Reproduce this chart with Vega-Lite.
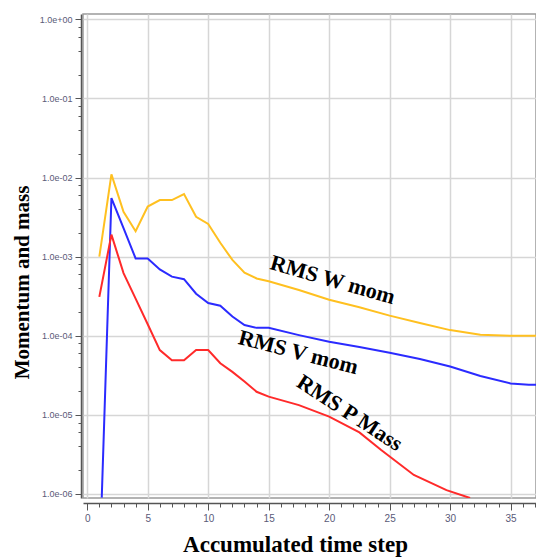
{
  "$schema": "https://vega.github.io/schema/vega-lite/v6.json",
  "autosize": {"type": "none"},
  "padding": {"left": 83, "top": 14, "right": 0, "bottom": 59},
  "width": 453,
  "height": 484,
  "background": "white",
  "config": {
    "view": {"stroke": "#9a9a9a", "strokeWidth": 1.5}
  },
  "layer": [
    {
      "data": {"values": [
        {"series": "W", "step": 1, "value": 1.0e-3},
        {"series": "W", "step": 2, "value": 1.1e-2},
        {"series": "W", "step": 3, "value": 3.7e-3},
        {"series": "W", "step": 4, "value": 2.1e-3},
        {"series": "W", "step": 5, "value": 4.3e-3},
        {"series": "W", "step": 6, "value": 5.2e-3},
        {"series": "W", "step": 7, "value": 5.2e-3},
        {"series": "W", "step": 8, "value": 6.2e-3},
        {"series": "W", "step": 9, "value": 3.2e-3},
        {"series": "W", "step": 10, "value": 2.6e-3},
        {"series": "W", "step": 11, "value": 1.5e-3},
        {"series": "W", "step": 12, "value": 9.1e-4},
        {"series": "W", "step": 13, "value": 6.3e-4},
        {"series": "W", "step": 14, "value": 5.3e-4},
        {"series": "W", "step": 15, "value": 4.9e-4},
        {"series": "W", "step": 17.5, "value": 3.8e-4},
        {"series": "W", "step": 20, "value": 2.85e-4},
        {"series": "W", "step": 22.5, "value": 2.3e-4},
        {"series": "W", "step": 25, "value": 1.8e-4},
        {"series": "W", "step": 27.5, "value": 1.45e-4},
        {"series": "W", "step": 30, "value": 1.18e-4},
        {"series": "W", "step": 32.5, "value": 1.03e-4},
        {"series": "W", "step": 35, "value": 1.0e-4},
        {"series": "W", "step": 37.5, "value": 1.0e-4},
        {"series": "V", "step": 1.2, "value": 9.0e-7},
        {"series": "V", "step": 2, "value": 5.5e-3},
        {"series": "V", "step": 3, "value": 2.3e-3},
        {"series": "V", "step": 4, "value": 9.5e-4},
        {"series": "V", "step": 5, "value": 9.5e-4},
        {"series": "V", "step": 6, "value": 6.9e-4},
        {"series": "V", "step": 7, "value": 5.6e-4},
        {"series": "V", "step": 8, "value": 5.2e-4},
        {"series": "V", "step": 9, "value": 3.4e-4},
        {"series": "V", "step": 10, "value": 2.6e-4},
        {"series": "V", "step": 11, "value": 2.4e-4},
        {"series": "V", "step": 12, "value": 1.75e-4},
        {"series": "V", "step": 13, "value": 1.37e-4},
        {"series": "V", "step": 14, "value": 1.26e-4},
        {"series": "V", "step": 15, "value": 1.26e-4},
        {"series": "V", "step": 17.5, "value": 1.02e-4},
        {"series": "V", "step": 20, "value": 8.4e-5},
        {"series": "V", "step": 22.5, "value": 7.2e-5},
        {"series": "V", "step": 25, "value": 6.1e-5},
        {"series": "V", "step": 27.5, "value": 5.1e-5},
        {"series": "V", "step": 30, "value": 4.1e-5},
        {"series": "V", "step": 32.5, "value": 3.1e-5},
        {"series": "V", "step": 35, "value": 2.5e-5},
        {"series": "V", "step": 36.5, "value": 2.4e-5},
        {"series": "V", "step": 37.5, "value": 2.4e-5},
        {"series": "P", "step": 1, "value": 3.1e-4},
        {"series": "P", "step": 2, "value": 1.9e-3},
        {"series": "P", "step": 3, "value": 6.2e-4},
        {"series": "P", "step": 4, "value": 2.95e-4},
        {"series": "P", "step": 5, "value": 1.4e-4},
        {"series": "P", "step": 6, "value": 6.6e-5},
        {"series": "P", "step": 7, "value": 4.9e-5},
        {"series": "P", "step": 8, "value": 4.9e-5},
        {"series": "P", "step": 9, "value": 6.6e-5},
        {"series": "P", "step": 10, "value": 6.6e-5},
        {"series": "P", "step": 11, "value": 4.5e-5},
        {"series": "P", "step": 12, "value": 3.5e-5},
        {"series": "P", "step": 13, "value": 2.65e-5},
        {"series": "P", "step": 14, "value": 1.96e-5},
        {"series": "P", "step": 15, "value": 1.7e-5},
        {"series": "P", "step": 17.5, "value": 1.33e-5},
        {"series": "P", "step": 20, "value": 9.5e-6},
        {"series": "P", "step": 22.5, "value": 6.0e-6},
        {"series": "P", "step": 24.3, "value": 3.6e-6},
        {"series": "P", "step": 27, "value": 1.74e-6},
        {"series": "P", "step": 29.7, "value": 1.12e-6},
        {"series": "P", "step": 31.65, "value": 8.9e-7}
      ]},
      "mark": {"type": "line", "clip": true, "strokeWidth": 2},
      "encoding": {
        "x": {
          "field": "step", "type": "quantitative",
          "scale": {"domain": [-0.35, 37.1], "nice": false, "zero": false},
          "axis": {
            "title": "Accumulated time step",
            "titleFont": "Liberation Serif", "titleFontSize": 23, "titleFontWeight": "bold", "titleColor": "black",
            "titlePadding": 10,
            "titleX": 212,
            "tickCount": 200,
            "format": "d",
            "values": [0,1,2,3,4,5,6,7,8,9,10,11,12,13,14,15,16,17,18,19,20,21,22,23,24,25,26,27,28,29,30,31,32,33,34,35,36,37],
            "labelExpr": "datum.value % 5 == 0 ? datum.label : ''",
            "labelOverlap": false,
            "labelFont": "Liberation Sans", "labelFontSize": 10, "labelColor": "#5a5a78",
            "labelPadding": 3,
            "offset": 5,
            "domainColor": "#555555", "domainWidth": 1.5,
            "tickColor": "#555555", "tickWidth": 1,
            "tickSize": {"condition": {"test": "datum.value % 5 == 0", "value": 7}, "value": 4},
            "grid": true, "gridColor": "#d6d6d6", "gridWidth": 1.5,
            "gridOpacity": {"condition": {"test": "datum.value % 5 == 0", "value": 1}, "value": 0}
          }
        },
        "y": {
          "field": "value", "type": "quantitative",
          "scale": {"type": "log", "domain": [8.9e-7, 1.17], "nice": false},
          "axis": {
            "title": "Momentum and mass",
            "titleFont": "Liberation Serif", "titleFontSize": 21, "titleFontWeight": "bold", "titleColor": "black",
            "titlePadding": 7,
            "titleY": 268,
            "tickCount": 200,
            "values": [1e-6, 2e-6, 4e-6, 6e-6, 8e-6, 1e-5, 2e-5, 4e-5, 6e-5, 8e-5, 1e-4, 2e-4, 4e-4, 6e-4, 8e-4, 1e-3, 2e-3, 4e-3, 6e-3, 8e-3, 1e-2, 2e-2, 4e-2, 6e-2, 8e-2, 1e-1, 2e-1, 4e-1, 6e-1, 8e-1, 1],
            "labelExpr": "abs(log(datum.value)/LN10 - round(log(datum.value)/LN10)) < 0.001 ? ('1.0e' + (datum.value >= 1 ? '+00' : '-0' + round(-log(datum.value)/LN10))) : ''",
            "labelOverlap": false,
            "labelFont": "Liberation Sans", "labelFontSize": 9, "labelColor": "#5a5a78",
            "labelPadding": 3,
            "offset": 2,
            "domainColor": "#555555", "domainWidth": 1.5,
            "tickColor": "#555555", "tickWidth": 1,
            "tickSize": {"condition": {"test": "abs(log(datum.value)/LN10 - round(log(datum.value)/LN10)) < 0.001", "value": 6}, "value": 3},
            "grid": true, "gridColor": "#d6d6d6", "gridWidth": 1.5,
            "gridOpacity": {"condition": {"test": "abs(log(datum.value)/LN10 - round(log(datum.value)/LN10)) < 0.001", "value": 1}, "value": 0}
          }
        },
        "color": {
          "field": "series", "type": "nominal",
          "scale": {"domain": ["W", "V", "P"], "range": ["#FFC020", "#2B2BFF", "#FF2A2A"]},
          "legend": null
        }
      }
    },
    {
      "data": {"values": [{"label": "RMS W mom", "step": 20.3, "value": 5.1e-4}]},
      "mark": {"type": "text", "angle": 16, "font": "Liberation Serif", "fontSize": 22, "fontWeight": "bold", "color": "black", "align": "center", "baseline": "middle"},
      "encoding": {
        "x": {"field": "step", "type": "quantitative"},
        "y": {"field": "value", "type": "quantitative"},
        "text": {"field": "label"}
      }
    },
    {
      "data": {"values": [{"label": "RMS V mom", "step": 17.45, "value": 6.2e-5}]},
      "mark": {"type": "text", "angle": 14.5, "font": "Liberation Serif", "fontSize": 22, "fontWeight": "bold", "color": "black", "align": "center", "baseline": "middle"},
      "encoding": {
        "x": {"field": "step", "type": "quantitative"},
        "y": {"field": "value", "type": "quantitative"},
        "text": {"field": "label"}
      }
    },
    {
      "data": {"values": [{"label": "RMS P Mass", "step": 21.7, "value": 1.06e-5}]},
      "mark": {"type": "text", "angle": 33, "font": "Liberation Serif", "fontSize": 22, "fontWeight": "bold", "color": "black", "align": "center", "baseline": "middle"},
      "encoding": {
        "x": {"field": "step", "type": "quantitative"},
        "y": {"field": "value", "type": "quantitative"},
        "text": {"field": "label"}
      }
    }
  ]
}
